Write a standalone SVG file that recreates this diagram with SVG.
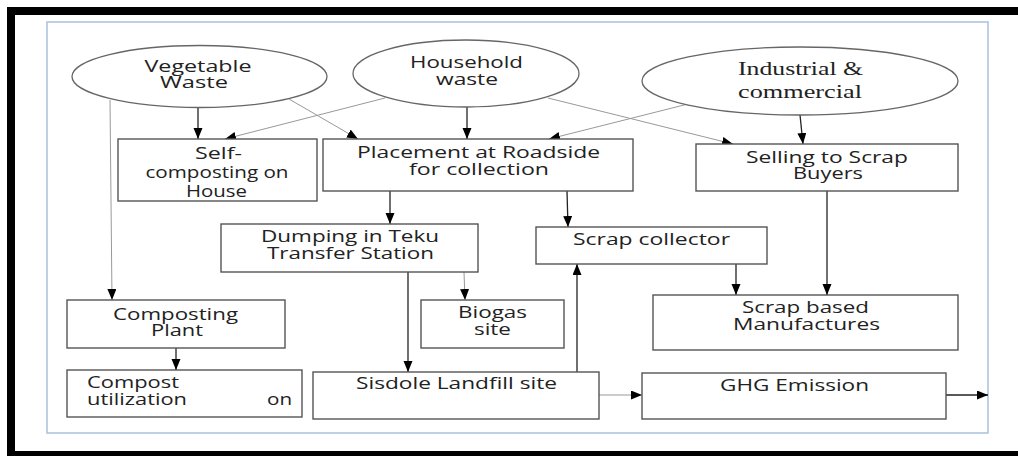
<svg xmlns="http://www.w3.org/2000/svg" width="1018" height="456" viewBox="0 0 1018 456">
<style>
.box{fill:#fff;stroke:#555;stroke-width:1.4}
.ell{fill:#fff;stroke:#666;stroke-width:1.3}
.t{font-family:"Open Sans","Liberation Sans",sans-serif;font-size:16.5px;fill:#222;text-anchor:middle}
.ts{font-family:"Liberation Serif","Times New Roman",serif;font-size:18px;fill:#222;text-anchor:middle}
.dk{stroke:#222;stroke-width:1.3;fill:none;marker-end:url(#ah)}
.lt{stroke:#999;stroke-width:1;fill:none;marker-end:url(#ah)}
</style>
<defs>
<marker id="ah" markerUnits="userSpaceOnUse" markerWidth="12" markerHeight="10" refX="11" refY="4.5" orient="auto">
<path d="M0,0 L11,4.5 L0,9 z" fill="#000"/>
</marker>
</defs>
<rect x="0" y="0" width="1018" height="456" fill="#fff"/>
<g id="frame">
<rect x="7" y="7" width="1011" height="8" fill="#000"/>
<rect x="7" y="7" width="8" height="449" fill="#000"/>
<rect x="7" y="451" width="1011" height="5" fill="#000"/>
<rect x="47" y="22" width="941" height="411" fill="none" stroke="#b0c4de" stroke-width="1.6"/>
</g>
<g id="connectors">
<path class="lt" d="M110,100 L112,300"/>
<path class="dk" d="M198,108 L198,139"/>
<path class="lt" d="M289,99 L358,139"/>
<path class="lt" d="M385,98 L225,139"/>
<path class="dk" d="M467,107 L467,139"/>
<path class="lt" d="M548,98 L733,144"/>
<path class="lt" d="M688,104 L549,139"/>
<path class="dk" d="M800,115 L803,144"/>
<path class="dk" d="M390,191 L390,224"/>
<path class="dk" d="M567,191 L568,227"/>
<path class="dk" d="M827,191 L827,295"/>
<path class="dk" d="M736,264 L736,295"/>
<path class="lt" d="M464,272 L465,300"/>
<path class="dk" d="M408,272 L408,372"/>
<path class="dk" d="M577,372 L577,264"/>
<path class="lt" d="M599,395 L642,395"/>
<path class="dk" d="M946,395 L988,395"/>
<path class="dk" d="M176,348 L176,370"/>
</g>
<g id="veg">
<ellipse class="ell" cx="199.5" cy="76.5" rx="127.5" ry="31"/>
<text class="t" x="198" y="72" textLength="107" lengthAdjust="spacingAndGlyphs">Vegetable</text>
<text class="t" x="194" y="88" textLength="68" lengthAdjust="spacingAndGlyphs">Waste</text>
</g>
<g id="household">
<ellipse class="ell" cx="466" cy="73.5" rx="113" ry="33.5"/>
<text class="t" x="466.5" y="68" textLength="113" lengthAdjust="spacingAndGlyphs">Household</text>
<text class="t" x="467" y="85" textLength="62" lengthAdjust="spacingAndGlyphs">waste</text>
</g>
<g id="industrial">
<ellipse class="ell" cx="800" cy="81" rx="158" ry="34"/>
<text class="ts" x="800.5" y="75" textLength="125" lengthAdjust="spacingAndGlyphs">Industrial &amp;</text>
<text class="ts" x="800" y="98" textLength="124" lengthAdjust="spacingAndGlyphs">commercial</text>
</g>
<g id="selfcomp">
<rect class="box" x="118" y="139" width="199" height="62"/>
<text class="t" x="218.5" y="159" textLength="47" lengthAdjust="spacingAndGlyphs">Self-</text>
<text class="t" x="217" y="178" textLength="143" lengthAdjust="spacingAndGlyphs">composting on</text>
<text class="t" x="216.5" y="197" textLength="61" lengthAdjust="spacingAndGlyphs">House</text>
</g>
<g id="placement">
<rect class="box" x="323" y="139" width="310" height="52"/>
<text class="t" x="478.5" y="158" textLength="243" lengthAdjust="spacingAndGlyphs">Placement at Roadside</text>
<text class="t" x="479" y="175" textLength="140" lengthAdjust="spacingAndGlyphs">for collection</text>
</g>
<g id="selling">
<rect class="box" x="696" y="144" width="262" height="47"/>
<text class="t" x="827" y="163" textLength="162" lengthAdjust="spacingAndGlyphs">Selling to Scrap</text>
<text class="t" x="828" y="179" textLength="70" lengthAdjust="spacingAndGlyphs">Buyers</text>
</g>
<g id="dumping">
<rect class="box" x="221" y="224" width="257" height="48"/>
<text class="t" x="350" y="242" textLength="178" lengthAdjust="spacingAndGlyphs">Dumping in Teku</text>
<text class="t" x="350.5" y="259" textLength="167" lengthAdjust="spacingAndGlyphs">Transfer Station</text>
</g>
<g id="scrapcollector">
<rect class="box" x="536" y="227" width="231" height="37"/>
<text class="t" x="651.5" y="245" textLength="157" lengthAdjust="spacingAndGlyphs">Scrap collector</text>
</g>
<g id="compostplant">
<rect class="box" x="67" y="300" width="218" height="48"/>
<text class="t" x="175.5" y="320" textLength="125" lengthAdjust="spacingAndGlyphs">Composting</text>
<text class="t" x="177" y="336" textLength="52" lengthAdjust="spacingAndGlyphs">Plant</text>
</g>
<g id="biogas">
<rect class="box" x="421" y="300" width="143" height="48"/>
<text class="t" x="492.5" y="318" textLength="69" lengthAdjust="spacingAndGlyphs">Biogas</text>
<text class="t" x="492.5" y="335" textLength="37" lengthAdjust="spacingAndGlyphs">site</text>
</g>
<g id="scrapmfg">
<rect class="box" x="653" y="295" width="305" height="55"/>
<text class="t" x="805.5" y="313" textLength="127" lengthAdjust="spacingAndGlyphs">Scrap based</text>
<text class="t" x="806.5" y="330" textLength="147" lengthAdjust="spacingAndGlyphs">Manufactures</text>
</g>
<g id="compostutil">
<rect class="box" x="67" y="370" width="235" height="47"/>
<text class="t" x="133" y="388" textLength="92" lengthAdjust="spacingAndGlyphs">Compost</text>
<text class="t" x="137" y="405" textLength="100" lengthAdjust="spacingAndGlyphs">utilization</text>
<text class="t" x="279.5" y="405" textLength="25" lengthAdjust="spacingAndGlyphs">on</text>
</g>
<g id="sisdole">
<rect class="box" x="313" y="372" width="286" height="47"/>
<text class="t" x="456.5" y="389" textLength="201" lengthAdjust="spacingAndGlyphs">Sisdole Landfill site</text>
</g>
<g id="ghg">
<rect class="box" x="642" y="373" width="304" height="46"/>
<text class="t" x="794.5" y="391" textLength="149" lengthAdjust="spacingAndGlyphs">GHG Emission</text>
</g>
</svg>
